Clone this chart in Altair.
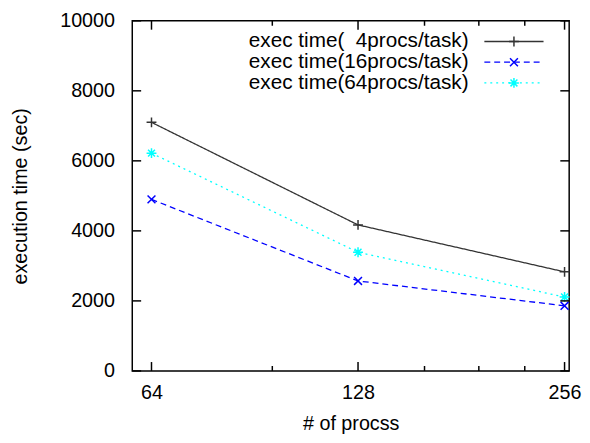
import altair as alt
import pandas as pd

procs = [64, 128, 256]
series = ["exec time(\u20074procs/task)", "exec time(16procs/task)", "exec time(64procs/task)"]
t4 = [7100, 4170, 2830]
t16 = [4900, 2570, 1860]
t64 = [6220, 3390, 2110]

y_major = [0, 2000, 4000, 6000, 8000, 10000]
x_major = [64, 128, 256]
x_minor = [96, 160, 192, 224]

colors = ["#333333", "#0000ff", "#00ffff"]
dashes = [[1, 0], [6, 4], [2, 4]]
plus = "M-1,0L1,0M0,-1L0,1"
cross = "M-0.8,-0.8L0.8,0.8M-0.8,0.8L0.8,-0.8"
star = "M-1,0L1,0M0,-1L0,1M-0.7,-0.7L0.7,0.7M-0.7,0.7L0.7,-0.7"
shapes = [plus, cross, star]

W, H = 443, 355
FONT = "Liberation Sans"
FS = 20

rows = []
for s, vals in zip(series, [t4, t16, t64]):
    for p, v in zip(procs, vals):
        rows.append({"procs": p, "time": v, "series": s})
df = pd.DataFrame(rows)

xscale = alt.Scale(type="log", domain=[60, 260], nice=False)
yscale = alt.Scale(domain=[0, 10000], nice=False)

X = alt.X("procs:Q", scale=xscale,
          axis=alt.Axis(values=x_major, grid=False, tickSize=0, domain=False,
                        labelPadding=12, title="# of procss", titlePadding=11,
                        labelFlush=False, format="d"))
Y = alt.Y("time:Q", scale=yscale,
          axis=alt.Axis(values=y_major, grid=False, tickSize=0, domain=False,
                        labelPadding=18, title="execution time (sec)", titlePadding=30,
                        format="d"))

color = alt.Color("series:N", scale=alt.Scale(domain=series, range=colors), legend=None)
dash = alt.StrokeDash("series:N", scale=alt.Scale(domain=series, range=dashes), legend=None)
shape = alt.Shape("series:N", scale=alt.Scale(domain=series, range=shapes), legend=None)

base = alt.Chart(df)
lines = base.mark_line(strokeWidth=1.3).encode(x=X, y=Y, color=color, strokeDash=dash)
points = base.mark_point(filled=False, size=100, strokeWidth=1.5, opacity=1).encode(
    x=X, y=Y, color=color, shape=shape)

ydf = pd.DataFrame({"time": y_major})
xdf = pd.DataFrame({"procs": x_major})
xmdf = pd.DataFrame({"procs": x_minor})

tick_style = dict(color="black", strokeWidth=1.5)
ticks = [
    alt.Chart(ydf).mark_rule(**tick_style).encode(y=Y, x=alt.value(0), x2=alt.value(9)),
    alt.Chart(ydf).mark_rule(**tick_style).encode(y=Y, x=alt.value(W), x2=alt.value(W - 9)),
    alt.Chart(xdf).mark_rule(**tick_style).encode(x=X, y=alt.value(H), y2=alt.value(H - 9)),
    alt.Chart(xdf).mark_rule(**tick_style).encode(x=X, y=alt.value(0), y2=alt.value(9)),
    alt.Chart(xmdf).mark_rule(**tick_style).encode(x=X, y=alt.value(H), y2=alt.value(H - 5)),
    alt.Chart(xmdf).mark_rule(**tick_style).encode(x=X, y=alt.value(0), y2=alt.value(5)),
]

legend_layers = []
tx, lx1, lx2 = 341, 357, 417
for i, s in enumerate(series):
    ly = 21 + 21 * i
    ldf = pd.DataFrame({"label": [s]})
    legend_layers.append(
        alt.Chart(ldf).mark_text(align="right", baseline="middle", font=FONT, fontSize=21,
                                 color="black").encode(
            text="label:N", x=alt.value(tx), y=alt.value(ly)))
    legend_layers.append(
        alt.Chart(ldf).mark_rule(color=colors[i], strokeWidth=1.3, strokeDash=dashes[i]).encode(
            x=alt.value(lx1), x2=alt.value(lx2), y=alt.value(ly)))
    legend_layers.append(
        alt.Chart(ldf).mark_point(shape=shapes[i], color=colors[i], filled=False, size=100,
                                  strokeWidth=1.5, opacity=1).encode(
            x=alt.value((lx1 + lx2) / 2), y=alt.value(ly)))

chart = alt.layer(lines, points, *ticks, *legend_layers).properties(
    width=W, height=H, background="white",
    padding={"left": 2, "top": 0, "right": 0, "bottom": 0}
).configure_view(stroke="black", strokeWidth=1.5).configure_axis(
    labelFont=FONT, labelFontSize=FS, labelColor="black",
    titleFont=FONT, titleFontSize=FS, titleFontWeight="normal", titleColor="black"
)

chart.save("out.html", embed_options={"renderer": "svg", "actions": False})
